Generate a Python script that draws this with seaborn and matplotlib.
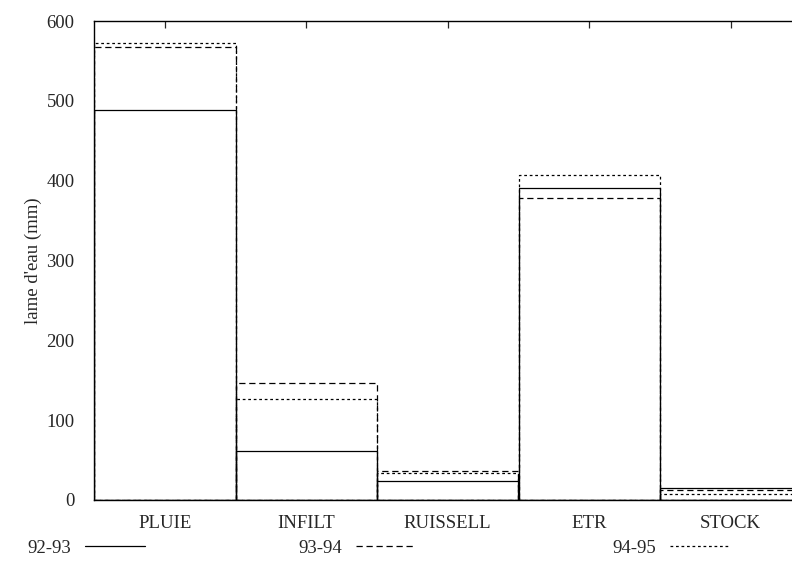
"""Water balance terms per hydrological year, drawn as overlapping outline bars."""

import matplotlib

matplotlib.use("Agg")

import matplotlib.pyplot as plt
import pandas as pd
import seaborn as sns
from matplotlib.lines import Line2D

terms = ["PLUIE", "INFILT", "RUISSELL", "ETR", "STOCK"]
years = ["92-93", "93-94", "94-95"]
values_92_93 = [489, 62, 23.5, 391, 15]
values_93_94 = [567, 147, 36.5, 378, 12]
values_94_95 = [573, 127, 33.5, 407, 8]
yticks = [0, 100, 200, 300, 400, 500, 600]

line_styles = {"92-93": "-", "93-94": (0, (5, 3)), "94-95": (0, (2.2, 2.2))}
# left edge of each key entry, in pixels
key_x = [27, 298, 612]


def build_frame():
    rows = []
    for year, vals in zip(years, [values_92_93, values_93_94, values_94_95]):
        for term, val in zip(terms, vals):
            rows.append({"terme": term, "annee": year, "lame": val})
    return pd.DataFrame(rows)


def main():
    sns.set_style("white")
    plt.rcParams["font.family"] = ["Liberation Serif", "DejaVu Serif"]
    fs = 13.5

    df = build_frame()
    fig = plt.figure(figsize=(7.92, 5.83), dpi=100)
    # right edge of the plot frame falls just outside the picture, as in the original
    ax = fig.add_axes([94 / 792, 83 / 583, 707.5 / 792, 479 / 583])

    sns.barplot(
        data=df, x="terme", y="lame", hue="annee", order=terms, hue_order=years,
        dodge=False, width=1.0, fill=False, palette=["black"] * 3,
        errorbar=None, legend=False, ax=ax,
    )
    for container, year in zip(ax.containers, years):
        for bar in container:
            bar.set_linestyle(line_styles[year])
            bar.set_linewidth(0.9)
            bar.set_edgecolor("black")

    ax.set_xlim(-0.5, 4.5)
    ax.set_ylim(0, 600)
    ax.set_yticks(yticks)
    ax.set_xlabel("")
    ax.set_ylabel("lame d'eau (mm)", fontsize=fs, labelpad=3)
    ax.tick_params(axis="both", direction="in", length=5, width=0.9,
                   top=True, right=True, labelsize=fs)
    ax.tick_params(axis="x", pad=11)
    ax.tick_params(axis="y", pad=14)
    for spine in ax.spines.values():
        spine.set_linewidth(1.0)
        spine.set_color("black")

    for year, x0 in zip(years, key_x):
        handle = Line2D([], [], color="black", lw=0.9, linestyle=line_styles[year])
        fig.legend(
            [handle], [year], loc="center left", bbox_to_anchor=(x0 / 792, 1 - 548 / 583),
            frameon=False, markerfirst=False, handlelength=3.2, handletextpad=0.75,
            borderpad=0, borderaxespad=0, fontsize=fs,
        )

    fig.savefig("out.png", dpi=100)
    plt.close(fig)


if __name__ == "__main__":
    main()
